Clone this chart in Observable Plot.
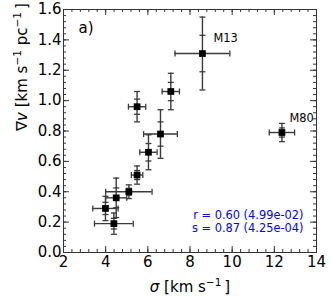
<!DOCTYPE html>
<html>
<head>
<meta charset="utf-8">
<script src="https://cdn.jsdelivr.net/npm/d3@7"></script>
<script src="https://cdn.jsdelivr.net/npm/@observablehq/plot@0.6"></script>
<style>
  html, body { margin: 0; padding: 0; background: #fff; }
  svg { font-family: "DejaVu Sans", sans-serif; }
</style>
</head>
<body>
<div id="chart"></div>
<script>
// ---- data ----
const sigma    = [3.99, 4.39, 4.50, 5.10, 5.49, 5.49, 6.03, 6.60, 7.09, 8.59, 12.36];
const sigmaErr = [0.60, 0.92, 0.50, 1.10, 0.27, 0.41, 0.41, 0.80, 0.41, 1.30, 0.60];
const gradV    = [0.29, 0.19, 0.36, 0.40, 0.51, 0.96, 0.66, 0.78, 1.06, 1.31, 0.79];
const gradErr  = [0.08, 0.07, 0.13, 0.045, 0.06, 0.10, 0.115, 0.16, 0.12, 0.24, 0.06];
const names    = ["", "", "", "", "", "", "", "", "", "M13", "M80"];
const xTicks   = [2, 4, 6, 8, 10, 12, 14];
const yTicks   = [0.0, 0.2, 0.4, 0.6, 0.8, 1.0, 1.2, 1.4, 1.6];
const xDomain  = [2, 14];
const yDomain  = [0, 1.6];
const panelLabel = "a)";
const statsLines = ["r = 0.60 (4.99e-02)", "s = 0.87 (4.25e-04)"];
const xLabelText = "σ [km s-1]";
const yLabelText = "∇v [km s-1 pc-1]";

const rows = sigma.map((s, i) => ({s, se: sigmaErr[i], g: gradV[i], ge: gradErr[i], name: names[i]}));

const W = 332, H = 297, mL = 63, mR = 16, mT = 9, mB = 45;
const pw = W - mL - mR, ph = H - mT - mB;
const xMinor = d3.range(2, 14.001, 0.4);
const yMinor = d3.range(0, 1.6001, 0.04);

const capH = {draw(ctx) { ctx.moveTo(-3, 0); ctx.lineTo(3, 0); }};
const capV = {draw(ctx) { ctx.moveTo(0, -3); ctx.lineTo(0, 3); }};
const errC = "#3a3a3a";
const tickC = "#333";
const labelOffset = {M13: [11, -15], M80: [7.5, -14]};

const chart = Plot.plot({
  width: W, height: H,
  marginLeft: mL, marginRight: mR, marginTop: mT, marginBottom: mB,
  style: {fontFamily: "DejaVu Sans, sans-serif", fontSize: "15px", color: "#000"},
  x: {domain: xDomain},
  y: {domain: yDomain},
  marks: [
    // inward ticks
    Plot.tickX(xMinor, {x: d => d, insetTop: ph - 3, stroke: tickC}),
    Plot.tickX(xMinor, {x: d => d, insetBottom: ph - 3, stroke: tickC}),
    Plot.tickX(xTicks, {x: d => d, insetTop: ph - 6, stroke: tickC}),
    Plot.tickX(xTicks, {x: d => d, insetBottom: ph - 6, stroke: tickC}),
    Plot.tickY(yMinor, {y: d => d, insetRight: pw - 3, stroke: tickC}),
    Plot.tickY(yMinor, {y: d => d, insetLeft: pw - 3, stroke: tickC}),
    Plot.tickY(yTicks, {y: d => d, insetRight: pw - 6, stroke: tickC}),
    Plot.tickY(yTicks, {y: d => d, insetLeft: pw - 6, stroke: tickC}),
    Plot.axisX({ticks: xTicks, tickSize: 0, tickPadding: 4, fontSize: 15, label: null, tickFormat: d3.format("d")}),
    Plot.axisY({ticks: yTicks, tickSize: 0, tickPadding: 2, fontSize: 15, label: null, tickFormat: d3.format(".1f")}),
    Plot.frame({stroke: tickC}),
    // error bars
    Plot.ruleX(rows, {x: "s", y1: d => d.g - d.ge, y2: d => d.g + d.ge, stroke: errC, strokeWidth: 1.4}),
    Plot.ruleY(rows, {y: "g", x1: d => d.s - d.se, x2: d => d.s + d.se, stroke: errC, strokeWidth: 1.4}),
    Plot.dot(rows, {x: "s", y: d => d.g + d.ge, symbol: capH, stroke: errC, strokeWidth: 1.3}),
    Plot.dot(rows, {x: "s", y: d => d.g - d.ge, symbol: capH, stroke: errC, strokeWidth: 1.3}),
    Plot.dot(rows, {x: "s", y: d => d.g + d.ge / 2, symbol: capH, stroke: errC, strokeWidth: 1.3}),
    Plot.dot(rows, {x: "s", y: d => d.g - d.ge / 2, symbol: capH, stroke: errC, strokeWidth: 1.3}),
    Plot.dot(rows, {x: d => d.s - d.se, y: "g", symbol: capV, stroke: errC, strokeWidth: 1.3}),
    Plot.dot(rows, {x: d => d.s + d.se, y: "g", symbol: capV, stroke: errC, strokeWidth: 1.3}),
    // markers
    Plot.dot(rows, {x: "s", y: "g", symbol: "square", r: 3.8, fill: "#000", stroke: "none"}),
    // point labels
    ...Object.entries(labelOffset).map(([nm, [ox, oy]]) =>
      Plot.text(rows.filter(d => d.name === nm), {x: "s", y: "g", text: "name", textAnchor: "start", dx: ox, dy: oy, fontSize: 11.4, fill: "#000"})),
    // panel label
    Plot.text([panelLabel], {frameAnchor: "top-left", dx: 15, dy: 19, lineAnchor: "middle", textAnchor: "start", fontSize: 15, fill: "#000"}),
    // stats
    Plot.text([statsLines.join("\n")], {frameAnchor: "bottom-right", dx: -13, dy: -21, textAnchor: "end", lineAnchor: "bottom", fill: "#0000ff", fontSize: 11.4, lineHeight: 1.08}),
    // axis labels
    Plot.text([xLabelText], {frameAnchor: "bottom", dy: 35, lineAnchor: "middle", fontSize: 15, fill: "#000"}),
    Plot.text([yLabelText], {frameAnchor: "left", dx: -41, rotate: -90, lineAnchor: "middle", fontSize: 15, fill: "#000"})
  ]
});
document.getElementById("chart").appendChild(chart);

// rich formatting of axis labels (italic symbols, superscripts)
function rich(content, parts) {
  const node = Array.from(chart.querySelectorAll("text")).find(n => n.textContent === content);
  if (!node) return;
  const t = d3.select(node);
  t.text(null);
  parts.forEach(p => {
    const ts = t.append("tspan").text(p.t);
    if (p.i) ts.attr("font-style", "italic");
    if (p.sup) ts.attr("font-size", "10.5px").attr("dy", "-6");
    if (p.down) ts.attr("dy", "6");
  });
}
rich(xLabelText, [
  {t: "σ", i: true}, {t: " [km s"}, {t: "−1", sup: true}, {t: "\u2009]", down: true}
]);
rich(yLabelText, [
  {t: "∇"}, {t: "v", i: true}, {t: " [km s"}, {t: "−1", sup: true}, {t: " pc", down: true}, {t: "−1", sup: true}, {t: "\u2009]", down: true}
]);
</script>
</body>
</html>
